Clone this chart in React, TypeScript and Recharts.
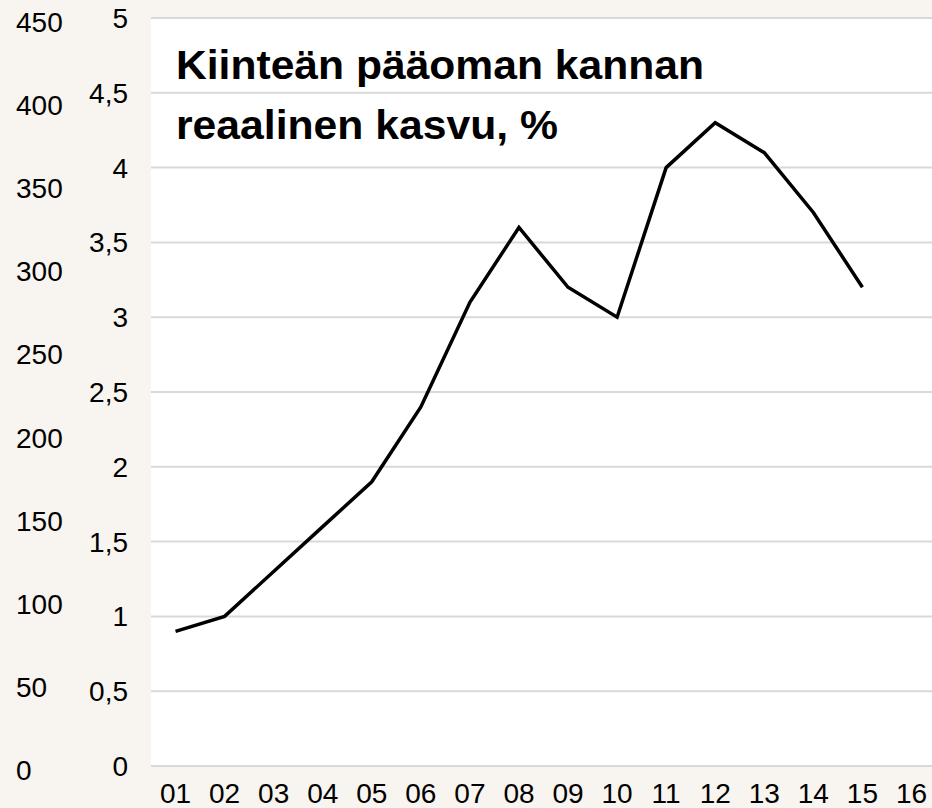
import { LineChart, Line, XAxis, YAxis, CartesianGrid } from "recharts";

const YEARS = ["01", "02", "03", "04", "05", "06", "07", "08", "09", "10", "11", "12", "13", "14", "15", "16"];
const GROWTH: (number | null)[] = [0.9, 1.0, 1.3, 1.6, 1.9, 2.4, 3.1, 3.6, 3.2, 3.0, 4.0, 4.3, 4.1, 3.7, 3.2, null];
const PCT_TICKS = [0, 0.5, 1, 1.5, 2, 2.5, 3, 3.5, 4, 4.5, 5];
const COUNT_TICKS = [0, 50, 100, 150, 200, 250, 300, 350, 400, 450];
const TITLE_LINES = ["Kiinteän pääoman kannan", "reaalinen kasvu, %"];

const FONT = '"Liberation Sans", Arial, Helvetica, sans-serif';
const BG = "#f8f4ef";

const data = YEARS.map((year, i) => ({ year, growth: GROWTH[i] }));

// tick renderers: labels sit at fixed columns in the left strip
const CountTick = ({ y, payload }: any) => (
  <text x={16} y={y + 14} textAnchor="start" fontSize={28} fontFamily={FONT} fill="#000">
    {payload.value}
  </text>
);

const PctTick = ({ y, payload }: any) => (
  <text x={128} y={y + 10} textAnchor="end" fontSize={28} fontFamily={FONT} fill="#000">
    {String(payload.value).replace(".", ",")}
  </text>
);

const YearTick = ({ x, y, payload }: any) => (
  <text x={x} y={y + 29} textAnchor="middle" fontSize={28} fontFamily={FONT} fill="#000">
    {payload.value}
  </text>
);

export default function App() {
  return (
    <div
      style={{
        position: "absolute",
        left: 0,
        top: 0,
        width: 932,
        height: 808,
        overflow: "hidden",
        background: BG,
      }}
    >
      <LineChart width={936} height={808} data={data} margin={{ top: 18, right: 0, bottom: 0, left: 0 }}>
        <CartesianGrid
          yAxisId="pct"
          vertical={false}
          stroke="#d9d9d9"
          strokeWidth={2}
          fill="#ffffff"
        />
        <XAxis
          dataKey="year"
          scale="band"
          height={42}
          axisLine={false}
          tickLine={false}
          interval={0}
          tick={<YearTick />}
        />
        <YAxis
          yAxisId="pct"
          type="number"
          width={76}
          domain={[0, 5]}
          ticks={PCT_TICKS}
          axisLine={false}
          tickLine={false}
          interval={0}
          tick={<PctTick />}
        />
        <YAxis
          yAxisId="count"
          type="number"
          width={75}
          domain={[0, 450]}
          allowDataOverflow
          ticks={COUNT_TICKS}
          axisLine={false}
          tickLine={false}
          interval={0}
          tick={<CountTick />}
        />
        <Line
          yAxisId="pct"
          type="linear"
          dataKey="growth"
          stroke="#000"
          strokeWidth={3.5}
          dot={false}
          activeDot={false}
          isAnimationActive={false}
        />
      </LineChart>
      <svg width={932} height={808} style={{ position: "absolute", left: 0, top: 0, pointerEvents: "none" }}>
        <text x={176} y={79} fontSize={40} fontWeight="bold" fontFamily={FONT} fill="#000" textLength={528} lengthAdjust="spacingAndGlyphs">
          {TITLE_LINES[0]}
        </text>
        <text x={176} y={139} fontSize={40} fontWeight="bold" fontFamily={FONT} fill="#000" textLength={382} lengthAdjust="spacingAndGlyphs">
          {TITLE_LINES[1]}
        </text>
      </svg>
    </div>
  );
}
